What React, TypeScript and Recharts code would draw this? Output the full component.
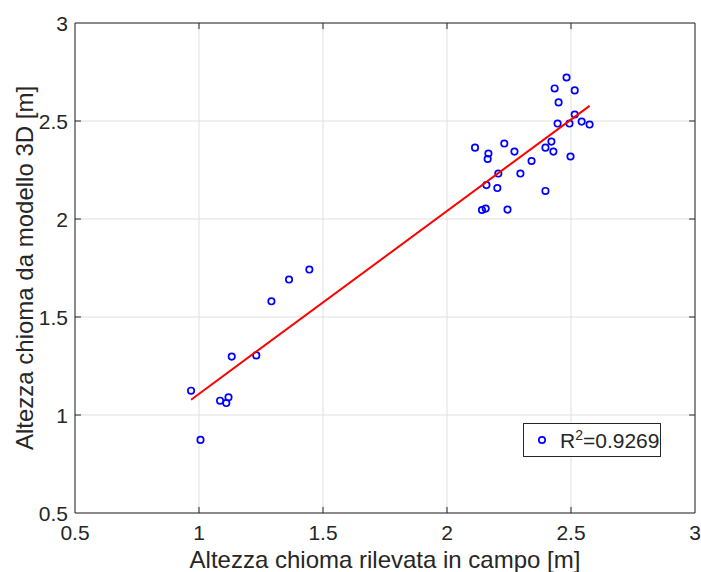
import React from 'react';
import { ScatterChart, Scatter, XAxis, YAxis, CartesianGrid, ReferenceLine } from 'recharts';

// measured field height (x) vs 3D-model height (y)
const fieldHeight = [
  0.968, 1.006, 1.085, 1.110, 1.119, 1.132, 1.231, 1.292, 1.363, 1.445,
  2.482, 2.434, 2.515, 2.450, 2.515, 2.446, 2.494, 2.543, 2.575,
  2.113, 2.167, 2.231, 2.272, 2.421, 2.397, 2.429, 2.498,
  2.164, 2.341, 2.207, 2.296, 2.159, 2.203, 2.397, 2.141, 2.156, 2.244,
];
const modelHeight = [
  1.124, 0.873, 1.073, 1.061, 1.090, 1.298, 1.304, 1.580, 1.691, 1.742,
  2.722, 2.666, 2.656, 2.595, 2.533, 2.487, 2.487, 2.497, 2.482,
  2.364, 2.334, 2.385, 2.344, 2.395, 2.364, 2.344, 2.319,
  2.306, 2.296, 2.232, 2.232, 2.173, 2.158, 2.143, 2.046, 2.053, 2.048,
];
// regression line endpoints
const fitX = [0.968, 2.575];
const fitY = [1.078, 2.577];

const xTicks = [0.5, 1, 1.5, 2, 2.5, 3];
const yTicks = [0.5, 1, 1.5, 2, 2.5, 3];
const xTickLabels = ['0.5', '1', '1.5', '2', '2.5', '3'];
const yTickLabels = ['0.5', '1', '1.5', '2', '2.5', '3'];
const legendLabel = '0.9269';
const xTitle = 'Altezza chioma rilevata in campo [m]';
const yTitle = 'Altezza chioma da modello 3D [m]';

const points = fieldHeight.map((x, i) => ({ x, y: modelHeight[i] }));
const fitData = fitX.map((x, i) => ({ x, y: fitY[i] }));

const TXT = '#262626';
const FONT = '"Liberation Sans", Arial, Helvetica, sans-serif';

const XTick = (props: any) => {
  const { x, y, payload } = props;
  const idx = xTicks.indexOf(payload.value);
  return (
    <text x={x} y={y + 27} textAnchor="middle" fill={TXT} fontSize={21} fontFamily={FONT}>
      {idx >= 0 ? xTickLabels[idx] : payload.value}
    </text>
  );
};

const YTick = (props: any) => {
  const { x, y, payload } = props;
  const idx = yTicks.indexOf(payload.value);
  return (
    <text x={x - 7} y={y} dy="0.36em" textAnchor="end" fill={TXT} fontSize={21} fontFamily={FONT}>
      {idx >= 0 ? yTickLabels[idx] : payload.value}
    </text>
  );
};

const Marker = (props: any) => (
  <circle cx={props.cx} cy={props.cy} r={3.2} fill="none" stroke="#0000ff" strokeWidth={1.7} />
);

const NoShape = () => <g />;

const tx = 0.024;
const ty = 0.031;

export default function App() {
  return (
    <div style={{ position: 'absolute', left: 0, top: 0, width: 701, height: 572, background: '#fff' }}>
      <ScatterChart width={701} height={572} margin={{ top: 23, right: 6, bottom: 0, left: 0 }}>
        <CartesianGrid stroke="#dfdfdf" strokeWidth={1} />
        <XAxis
          type="number"
          dataKey="x"
          domain={[0.5, 3]}
          ticks={xTicks}
          allowDataOverflow
          height={59}
          tickLine={false}
          tickSize={0}
          tickMargin={0}
          axisLine={{ stroke: TXT, strokeWidth: 1 }}
          tick={<XTick />}
          interval={0}
          label={{ value: xTitle, position: 'insideBottom', offset: 4, fill: TXT, fontSize: 24, fontFamily: FONT }}
        />
        <YAxis
          type="number"
          dataKey="y"
          domain={[0.5, 3]}
          ticks={yTicks}
          allowDataOverflow
          width={75}
          tickLine={false}
          tickSize={0}
          tickMargin={0}
          axisLine={{ stroke: TXT, strokeWidth: 1 }}
          tick={<YTick />}
          interval={0}
          label={{ value: yTitle, angle: -90, position: 'insideLeft', offset: 24, dy: 0, style: { textAnchor: 'middle' }, fill: TXT, fontSize: 24, fontFamily: FONT }}
        />
        <ReferenceLine x={3} stroke={TXT} strokeWidth={1} ifOverflow="visible" />
        <ReferenceLine y={3} stroke={TXT} strokeWidth={1} ifOverflow="visible" />
        {xTicks.slice(1, -1).map((v) => (
          <ReferenceLine key={'xb' + v} segment={[{ x: v, y: 0.5 }, { x: v, y: 0.5 + ty }]} stroke={TXT} strokeWidth={1} ifOverflow="visible" />
        ))}
        {xTicks.slice(1, -1).map((v) => (
          <ReferenceLine key={'xt' + v} segment={[{ x: v, y: 3 }, { x: v, y: 3 - ty }]} stroke={TXT} strokeWidth={1} ifOverflow="visible" />
        ))}
        {yTicks.slice(1, -1).map((v) => (
          <ReferenceLine key={'yl' + v} segment={[{ x: 0.5, y: v }, { x: 0.5 + tx, y: v }]} stroke={TXT} strokeWidth={1} ifOverflow="visible" />
        ))}
        {yTicks.slice(1, -1).map((v) => (
          <ReferenceLine key={'yr' + v} segment={[{ x: 3, y: v }, { x: 3 - tx, y: v }]} stroke={TXT} strokeWidth={1} ifOverflow="visible" />
        ))}
        <Scatter data={points} shape={<Marker />} isAnimationActive={false} />
        <Scatter data={fitData} shape={<NoShape />} line={{ stroke: '#ff0000', strokeWidth: 2 }} isAnimationActive={false} />
      </ScatterChart>
      <div
        style={{
          position: 'absolute',
          left: 523,
          top: 423,
          width: 138,
          height: 34,
          boxSizing: 'border-box',
          border: `1px solid ${TXT}`,
          background: '#fff',
        }}
      >
        <svg width={136} height={32} style={{ display: 'block' }}>
          <circle cx={18} cy={16} r={3.2} fill="none" stroke="#0000ff" strokeWidth={1.7} />
          <text x={36} y={24} fill={TXT} fontSize={21} fontFamily={FONT}>
            R<tspan dy={-8} fontSize={14}>2</tspan>
            <tspan dy={8} fontSize={21}>={legendLabel}</tspan>
          </text>
        </svg>
      </div>
    </div>
  );
}
